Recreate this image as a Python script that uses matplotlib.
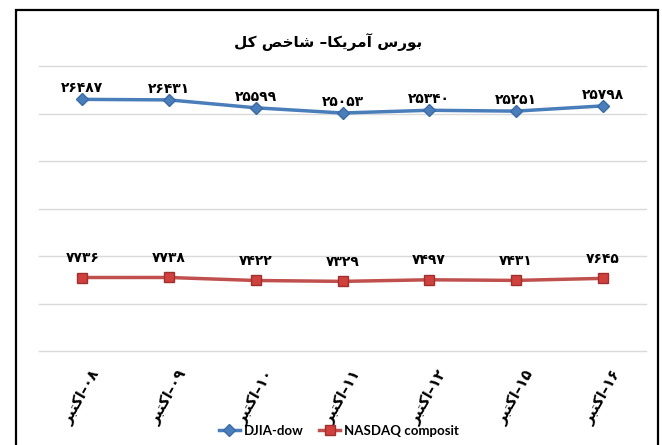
import matplotlib
matplotlib.use("Agg")
import matplotlib.pyplot as plt
from matplotlib.patches import Rectangle

title = "بورس آمریکا– شاخص کل"
dates = ["۰۸–اکتبر", "۰۹–اکتبر", "۱۰–اکتبر", "۱۱–اکتبر",
         "۱۲–اکتبر", "۱۵–اکتبر", "۱۶–اکتبر"]
djia = [26487, 26431, 25599, 25053, 25340, 25251, 25798]
nasdaq = [7736, 7738, 7422, 7329, 7497, 7431, 7645]
series_names = ["DJIA-dow", "NASDAQ composit"]

# matplotlib does no Arabic shaping, so pick presentation forms by hand
# (isolated, final, initial, medial)
FORMS = {
    "ا": ("\uFE8D", "\uFE8E", None, None),
    "آ": ("\uFE81", "\uFE82", None, None),
    "ب": ("\uFE8F", "\uFE90", "\uFE91", "\uFE92"),
    "ت": ("\uFE95", "\uFE96", "\uFE97", "\uFE98"),
    "خ": ("\uFEA5", "\uFEA6", "\uFEA7", "\uFEA8"),
    "ر": ("\uFEAD", "\uFEAE", None, None),
    "س": ("\uFEB1", "\uFEB2", "\uFEB3", "\uFEB4"),
    "ش": ("\uFEB5", "\uFEB6", "\uFEB7", "\uFEB8"),
    "ص": ("\uFEB9", "\uFEBA", "\uFEBB", "\uFEBC"),
    "ل": ("\uFEDD", "\uFEDE", "\uFEDF", "\uFEE0"),
    "م": ("\uFEE1", "\uFEE2", "\uFEE3", "\uFEE4"),
    "و": ("\uFEED", "\uFEEE", None, None),
    "ک": ("\uFB8E", "\uFB8F", "\uFB90", "\uFB91"),
    "ی": ("\uFBFC", "\uFBFD", "\uFBFE", "\uFBFF"),
}
FA_DIGITS = "۰۱۲۳۴۵۶۷۸۹"


def shape_word(word):
    out = []
    for i, c in enumerate(word):
        prev_j = i > 0 and FORMS[word[i - 1]][2] is not None
        next_j = i < len(word) - 1 and FORMS[c][2] is not None
        if prev_j and next_j:
            out.append(FORMS[c][3])
        elif prev_j:
            out.append(FORMS[c][1])
        elif next_j:
            out.append(FORMS[c][2])
        else:
            out.append(FORMS[c][0])
    return "".join(out[::-1])


def kind(c):
    if c in FORMS:
        return "ar"
    if c in FA_DIGITS or c.isdigit():
        return "num"
    return None


def rtl(text):
    """Very small bidi: letter runs shaped, numbers kept, run order reversed."""
    parts, cur, cur_k = [], "", None
    for c in text:
        k = kind(c)
        if cur and (k != cur_k or k is None):
            parts.append(shape_word(cur) if cur_k == "ar" else cur)
            cur = ""
        cur += c
        cur_k = k
    if cur:
        parts.append(shape_word(cur) if cur_k == "ar" else cur)
    return "".join(parts[::-1])


def fa_num(v):
    return "".join(FA_DIGITS[int(d)] for d in str(v))


def main():
    fig = plt.figure(figsize=(6.62, 4.45), dpi=100)
    ax = fig.add_axes([39 / 662, 94 / 445, 607 / 662, 285 / 445])

    x = list(range(len(dates)))
    ax.plot(x, djia, color="#4a7ebb", lw=2.5, marker="D", ms=6.5,
            mfc="#4a7ebb", mec="#3a6aa5", label=series_names[0], zorder=3)
    ax.plot(x, nasdaq, color="#c0504d", lw=2.5, marker="s", ms=7,
            mfc="#d0403c", mec="#a03030", label=series_names[1], zorder=3)

    for xi, v in zip(x, djia):
        ax.annotate(fa_num(v), (xi, v), xytext=(0, 3),
                    textcoords="offset points", ha="center", va="bottom",
                    fontsize=10, fontweight="bold", family="DejaVu Sans")
    for xi, v in zip(x, nasdaq):
        ax.annotate(fa_num(v), (xi, v), xytext=(0, 9),
                    textcoords="offset points", ha="center", va="bottom",
                    fontsize=10, fontweight="bold", family="DejaVu Sans")

    ax.set_xlim(-0.5, len(dates) - 0.5)
    ax.set_ylim(0, 30000)
    ax.set_yticks(range(0, 30001, 5000))
    ax.yaxis.grid(True, color="#d9d9d9", lw=1)
    for g in ax.get_ygridlines():
        g.set_clip_on(False)
    ax.set_axisbelow(True)
    ax.tick_params(axis="y", left=False, labelleft=False)
    ax.tick_params(axis="x", length=0, pad=12)
    for s in ax.spines.values():
        s.set_visible(False)

    ax.set_xticks(x)
    ax.set_xticklabels([rtl(d) for d in dates], rotation=60,
                       ha="center", fontsize=10.5, fontweight="bold",
                       family="DejaVu Sans")

    fig.text(0.495, 1 - 42 / 445, rtl(title), ha="center",
             va="center", fontsize=11, fontweight="bold",
             family="DejaVu Sans")

    fig.legend(loc="center", bbox_to_anchor=(0.512, 1 - 431 / 445), ncol=2,
               frameon=False, prop={"family": "Lato", "weight": "bold",
                                    "size": 9.5},
               handlelength=1.6, columnspacing=1.2, handletextpad=0.3)

    fig.patches.append(Rectangle((16 / 662, -0.05), 642 / 662,
                                 1.05 - 10 / 445, transform=fig.transFigure,
                                 fill=False, ec="black", lw=1.6))

    fig.savefig("out.png", dpi=100)


if __name__ == "__main__":
    main()
